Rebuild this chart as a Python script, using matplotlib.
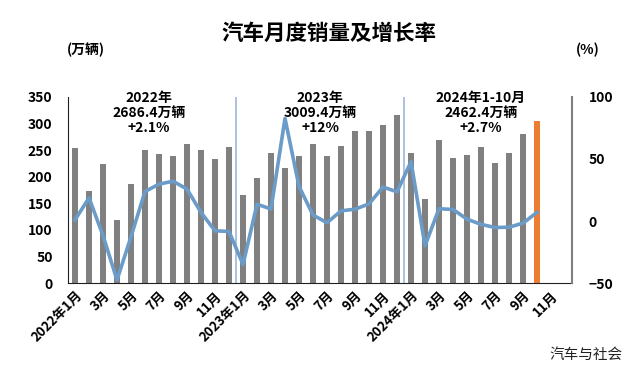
import matplotlib
matplotlib.use("Agg")
import matplotlib.pyplot as plt
import numpy as np

plt.rcParams['font.family'] = ['Noto Sans CJK SC', 'DejaVu Sans']

# monthly sales (10k vehicles), Jan 2022 - Oct 2024
sales = [253.1, 173.7, 223.4, 118.1, 186.2, 250.2, 242.0, 238.3, 261.0, 250.5, 232.7, 255.6,
         164.9, 197.6, 245.1, 215.9, 238.2, 262.2, 238.7, 258.2, 285.8, 285.3, 297.0, 315.6,
         243.9, 158.4, 269.4, 235.9, 241.7, 255.2, 226.2, 245.3, 280.9, 305.3]
# year-on-year growth (%)
growth = [0.9, 18.7, -11.7, -47.6, -12.6, 23.8, 29.7, 32.1, 25.7, 6.9, -7.9, -8.4,
          -35.0, 13.5, 9.7, 82.7, 27.9, 4.8, -1.4, 8.2, 9.5, 13.8, 27.4, 23.5,
          47.9, -19.9, 9.9, 9.3, 1.5, -2.7, -5.2, -5.0, -1.7, 7.0]
n_slots = 36
tick_labels = ['2022年1月', '3月', '5月', '7月', '9月', '11月',
               '2023年1月', '3月', '5月', '7月', '9月', '11月',
               '2024年1月', '3月', '5月', '7月', '9月', '11月']
notes = ['2022年\n2686.4万辆\n+2.1%', '2023年\n3009.4万辆\n+12%', '2024年1-10月\n2462.4万辆\n+2.7%']
note_x = [5.3, 17.5, 29.0]

x = np.arange(len(sales))
colors = ['#808080'] * (len(sales) - 1) + ['#ED7D31']

fig = plt.figure(figsize=(6.32, 3.7), dpi=100)
ax = fig.add_axes([0.1076, 0.235, 0.7975, 0.503])
ax.bar(x, sales, width=0.38, color=colors, zorder=2)
ax.set_xlim(-0.5, n_slots - 0.5)
ax.set_ylim(0, 350)
ax.set_yticks(range(0, 351, 50))
ax.set_xticks(range(0, n_slots, 2))
ax.set_xticklabels(tick_labels, rotation=45, ha='right', rotation_mode='anchor',
                   fontsize=9.5, fontweight='bold')
for lab in ax.get_yticklabels():
    lab.set_fontweight('bold')
    lab.set_fontsize(10)
ax.tick_params(length=0, pad=4)
ax.tick_params(axis='y', pad=11)
for s in ['top', 'right']:
    ax.spines[s].set_visible(False)
ax.spines['left'].set_color('#222222')
ax.spines['bottom'].set_color('#222222')

# year separators
for b in [11.5, 23.5]:
    ax.axvline(b, color='#9DB8D6', lw=1.2, zorder=1)

ax2 = ax.twinx()
ax2.plot(x, growth, color='#6B9BC8', lw=2.6, zorder=3)
ax2.set_ylim(-50, 100)
ax2.set_yticks([-50, 0, 50, 100])
for lab in ax2.get_yticklabels():
    lab.set_fontweight('bold')
    lab.set_fontsize(10)
ax2.tick_params(length=0, pad=12)
for s in ['top', 'left', 'bottom']:
    ax2.spines[s].set_visible(False)
ax2.spines['right'].set_color('#808080')
ax2.spines['right'].set_linewidth(1.5)

for t, xx in zip(notes, note_x):
    ax.text(xx, 362, t, ha='center', va='top', fontsize=10, fontweight='bold',
            linespacing=1.1, zorder=5, clip_on=False)

fig.text(0.52, 0.91, '汽车月度销量及增长率', ha='center', va='center',
         fontsize=15.5, fontweight='bold')
fig.text(0.136, 0.865, '(万辆)', ha='center', va='center', fontsize=10, fontweight='bold')
fig.text(0.93, 0.865, '(%)', ha='center', va='center', fontsize=10, fontweight='bold')
fig.text(0.985, 0.04, '汽车与社会', ha='right', va='center', fontsize=10.5, color='#222222')

fig.savefig('out.png', dpi=100)
